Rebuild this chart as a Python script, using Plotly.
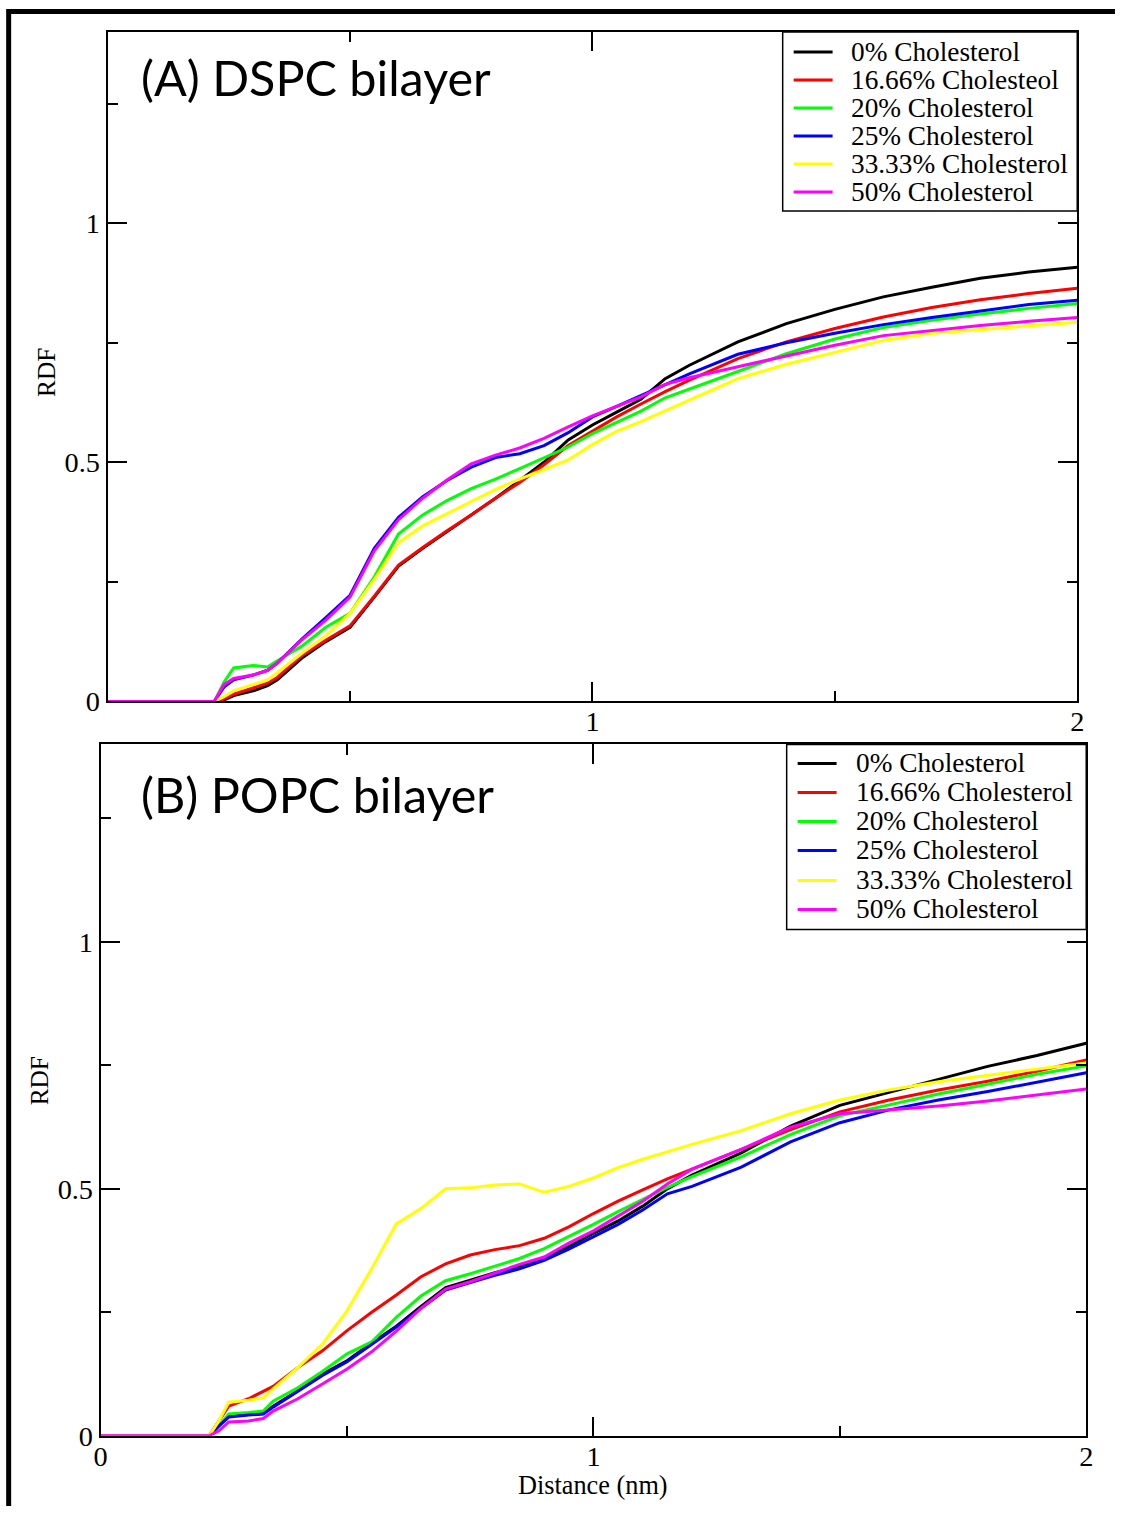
import plotly.graph_objects as go

# ---------------- data ----------------
distance = [0.00, 0.22, 0.24, 0.26, 0.30, 0.33, 0.35, 0.40, 0.45, 0.50, 0.55, 0.60, 0.65, 0.70,
            0.75, 0.80, 0.85, 0.90, 0.95, 1.00, 1.05, 1.10, 1.15, 1.20, 1.30, 1.40, 1.50, 1.60,
            1.70, 1.80, 1.90, 2.00]

names_a = ["0% Cholesterol", "16.66% Cholesteol", "20% Cholesterol", "25% Cholesterol",
           "33.33% Cholesterol", "50% Cholesterol"]
names_b = ["0% Cholesterol", "16.66% Cholesterol", "20% Cholesterol", "25% Cholesterol",
           "33.33% Cholesterol", "50% Cholesterol"]
colors = ["#000000", "#ff0000", "#00ff00", "#0000ff", "#ffff00", "#ff00ff"]

# Panel A: DSPC bilayer
dspc_0 = [0, 0, 0.003, 0.012, 0.022, 0.033, 0.045, 0.09, 0.125, 0.155, 0.218, 0.283, 0.32, 0.355,
          0.39, 0.425, 0.462, 0.50, 0.547, 0.578, 0.605, 0.632, 0.675, 0.703, 0.752, 0.79, 0.82,
          0.846, 0.866, 0.885, 0.898, 0.908]
dspc_1666 = [0, 0, 0.005, 0.015, 0.028, 0.038, 0.05, 0.095, 0.128, 0.158, 0.22, 0.285, 0.322, 0.357,
             0.39, 0.425, 0.458, 0.495, 0.535, 0.565, 0.595, 0.622, 0.648, 0.672, 0.717, 0.752, 0.78,
             0.804, 0.824, 0.84, 0.853, 0.864]
dspc_20 = [0, 0, 0.04, 0.07, 0.075, 0.072, 0.085, 0.115, 0.155, 0.184, 0.26, 0.35, 0.39, 0.42,
           0.445, 0.465, 0.487, 0.51, 0.532, 0.56, 0.583, 0.607, 0.635, 0.653, 0.69, 0.727, 0.758,
           0.782, 0.797, 0.81, 0.822, 0.832]
dspc_25 = [0, 0, 0.03, 0.045, 0.055, 0.065, 0.08, 0.13, 0.175, 0.222, 0.32, 0.385, 0.428, 0.462,
           0.49, 0.51, 0.518, 0.535, 0.562, 0.595, 0.617, 0.64, 0.663, 0.685, 0.726, 0.75, 0.77,
           0.788, 0.803, 0.817, 0.83, 0.839]
dspc_3333 = [0, 0, 0.01, 0.022, 0.035, 0.045, 0.06, 0.10, 0.137, 0.184, 0.255, 0.332, 0.367, 0.393,
             0.418, 0.443, 0.465, 0.485, 0.505, 0.537, 0.565, 0.585, 0.607, 0.63, 0.675, 0.705, 0.73,
             0.755, 0.77, 0.778, 0.786, 0.793]
dspc_50 = [0, 0, 0.035, 0.048, 0.055, 0.065, 0.08, 0.128, 0.17, 0.218, 0.315, 0.38, 0.425, 0.463,
           0.497, 0.515, 0.53, 0.55, 0.574, 0.597, 0.617, 0.637, 0.663, 0.677, 0.70, 0.722, 0.745,
           0.765, 0.776, 0.786, 0.795, 0.803]

# Panel B: POPC bilayer
popc_0 = [0, 0, 0.02, 0.04, 0.043, 0.045, 0.06, 0.091, 0.125, 0.152, 0.188, 0.222, 0.262, 0.30,
          0.315, 0.33, 0.343, 0.36, 0.383, 0.41, 0.435, 0.465, 0.50, 0.528, 0.573, 0.627, 0.669,
          0.695, 0.722, 0.748, 0.77, 0.795]
popc_1666 = [0, 0, 0.03, 0.06, 0.075, 0.09, 0.10, 0.138, 0.172, 0.213, 0.25, 0.285, 0.322, 0.348,
             0.366, 0.377, 0.385, 0.40, 0.423, 0.45, 0.475, 0.498, 0.52, 0.54, 0.58, 0.62, 0.656,
             0.68, 0.70, 0.718, 0.738, 0.761]
popc_20 = [0, 0, 0.02, 0.044, 0.047, 0.05, 0.07, 0.097, 0.13, 0.166, 0.19, 0.24, 0.283, 0.314,
           0.328, 0.343, 0.359, 0.379, 0.403, 0.428, 0.454, 0.478, 0.503, 0.525, 0.565, 0.61, 0.648,
           0.67, 0.692, 0.712, 0.732, 0.749]
popc_25 = [0, 0, 0.02, 0.038, 0.042, 0.044, 0.058, 0.09, 0.122, 0.15, 0.185, 0.22, 0.258, 0.295,
           0.31, 0.325, 0.338, 0.355, 0.378, 0.403, 0.428, 0.457, 0.49, 0.505, 0.544, 0.595, 0.634,
           0.66, 0.68, 0.697, 0.716, 0.735]
popc_3333 = [0, 0, 0.03, 0.068, 0.072, 0.077, 0.095, 0.138, 0.185, 0.253, 0.338, 0.429, 0.46, 0.50,
             0.502, 0.508, 0.51, 0.493, 0.505, 0.522, 0.543, 0.56, 0.575, 0.59, 0.618, 0.652, 0.68,
             0.70, 0.717, 0.73, 0.743, 0.755]
popc_50 = [0, 0, 0.01, 0.028, 0.03, 0.035, 0.05, 0.075, 0.105, 0.135, 0.17, 0.212, 0.258, 0.297,
           0.312, 0.33, 0.347, 0.362, 0.39, 0.415, 0.445, 0.475, 0.51, 0.54, 0.58, 0.625, 0.652,
           0.66, 0.668, 0.678, 0.69, 0.702]

series_a = [dspc_0, dspc_1666, dspc_20, dspc_25, dspc_3333, dspc_50]
series_b = [popc_0, popc_1666, popc_20, popc_25, popc_3333, popc_50]

x_tickvals = [0, 1, 2]
y_tickvals = [0, 0.5, 1]
y_ticktext = ["0", "0.5", "1"]

# ---------------- figure ----------------
W, H = 1122, 1522
# the photographed page comes out slightly shrunk and centred; place items so
# that they land on the intended pixel positions of the picture
S = 1522 / 1539
OX = (W - W * S) / 2


def fx(p):
    return ((p - OX) / S) / W


def fy(p):
    return 1 - (p / S) / H


def fs(v):
    return v / S


fig = go.Figure()
for vals, name, c in zip(series_a, names_a, colors):
    fig.add_trace(go.Scatter(x=distance, y=vals, mode="lines", name=name,
                             line=dict(color=c, width=3), xaxis="x", yaxis="y",
                             showlegend=False))
for vals, name, c in zip(series_b, names_b, colors):
    fig.add_trace(go.Scatter(x=distance, y=vals, mode="lines", name=name,
                             line=dict(color=c, width=3), xaxis="x2", yaxis="y2",
                             showlegend=False))

serif = "Liberation Serif"
axis_common = dict(showline=True, linecolor="black", linewidth=2, mirror="ticks",
                   ticks="inside", ticklen=fs(19), tickwidth=1.5, tickcolor="black",
                   showgrid=False, zeroline=False,
                   tickfont=dict(family=serif, size=fs(28), color="black"))
minor_x = dict(tickvals=[0.5, 1.5], ticks="inside", ticklen=fs(10), tickwidth=1.5,
               tickcolor="black")
minor_y = dict(tickvals=[0.25, 0.75, 1.25], ticks="inside", ticklen=fs(10), tickwidth=1.5,
               tickcolor="black")

fig.update_layout(
    width=W, height=H, margin=dict(l=0, r=0, t=0, b=0),
    paper_bgcolor="white", plot_bgcolor="white", showlegend=False,
    xaxis=dict(domain=[fx(107), fx(1078)], anchor="y", range=[0, 2],
               tickvals=x_tickvals, ticktext=["", "1", "2"], minor=minor_x,
               ticklabelstandoff=-6, **axis_common),
    yaxis=dict(domain=[fy(701), fy(32)], anchor="x", range=[0, 1.4],
               tickvals=y_tickvals, ticktext=y_ticktext, minor=minor_y, **axis_common),
    xaxis2=dict(domain=[fx(100), fx(1087)], anchor="y2", range=[0, 2],
                tickvals=x_tickvals, ticktext=["0", "1", "2"], minor=minor_x,
                ticklabelstandoff=-6, **axis_common),
    yaxis2=dict(domain=[fy(1435), fy(744)], anchor="x2", range=[0, 1.4],
                tickvals=y_tickvals, ticktext=y_ticktext, minor=minor_y, **axis_common),
)

shapes = []
annotations = []

# outer frame (top and left heavy lines)
shapes.append(dict(type="line", xref="paper", yref="paper", x0=max(fx(4), 0), x1=1.0,
                   y0=fy(11.5), y1=fy(11.5), line=dict(color="black", width=5)))
shapes.append(dict(type="line", xref="paper", yref="paper", x0=max(fx(6.5), 0.0015),
                   x1=max(fx(6.5), 0.0015), y0=0, y1=fy(9), line=dict(color="black", width=5)))


def add_legend(names, box, line_x, text_x, rows):
    x0, y0, x1, y1 = box
    shapes.append(dict(type="rect", xref="paper", yref="paper", x0=fx(x0), x1=fx(x1),
                       y0=fy(y1), y1=fy(y0), line=dict(color="black", width=1.5),
                       fillcolor="white", layer="above"))
    for name, c, ry in zip(names, colors, rows):
        shapes.append(dict(type="line", xref="paper", yref="paper", x0=fx(line_x[0]),
                           x1=fx(line_x[1]), y0=fy(ry), y1=fy(ry),
                           line=dict(color=c, width=3), layer="above"))
        annotations.append(dict(text=name, xref="paper", yref="paper", x=fx(text_x), y=fy(ry),
                                xanchor="left", yanchor="middle", showarrow=False,
                                font=dict(family=serif, size=fs(27), color="black")))


add_legend(names_a, (783, 32, 1078, 211), (794, 833), 849,
           [52, 80, 108, 136, 164, 192])
add_legend(names_b, (787, 744, 1087, 929), (798, 837), 854,
           [763, 792, 821, 850, 880, 909])

# panel titles
annotations.append(dict(text="(A) DSPC bilayer", xref="paper", yref="paper", x=fx(138),
                        y=fy(77), xanchor="left", yanchor="middle", showarrow=False,
                        font=dict(family="Lato", size=fs(48), color="black")))
annotations.append(dict(text="(B) POPC bilayer", xref="paper", yref="paper", x=fx(138),
                        y=fy(794), xanchor="left", yanchor="middle", showarrow=False,
                        font=dict(family="Lato", size=fs(48), color="black")))

# axis titles
annotations.append(dict(text="RDF", xref="paper", yref="paper", x=fx(45), y=fy(372),
                        xanchor="center", yanchor="middle", textangle=-90, showarrow=False,
                        font=dict(family=serif, size=fs(25), color="black")))
annotations.append(dict(text="RDF", xref="paper", yref="paper", x=fx(38), y=fy(1080),
                        xanchor="center", yanchor="middle", textangle=-90, showarrow=False,
                        font=dict(family=serif, size=fs(25), color="black")))
annotations.append(dict(text="Distance (nm)", xref="paper", yref="paper", x=fx(593),
                        y=fy(1485), xanchor="center", yanchor="middle", showarrow=False,
                        font=dict(family=serif, size=fs(26), color="black")))

fig.update_layout(shapes=shapes, annotations=annotations)

fig.write_html("out.html", config={"displayModeBar": False})
